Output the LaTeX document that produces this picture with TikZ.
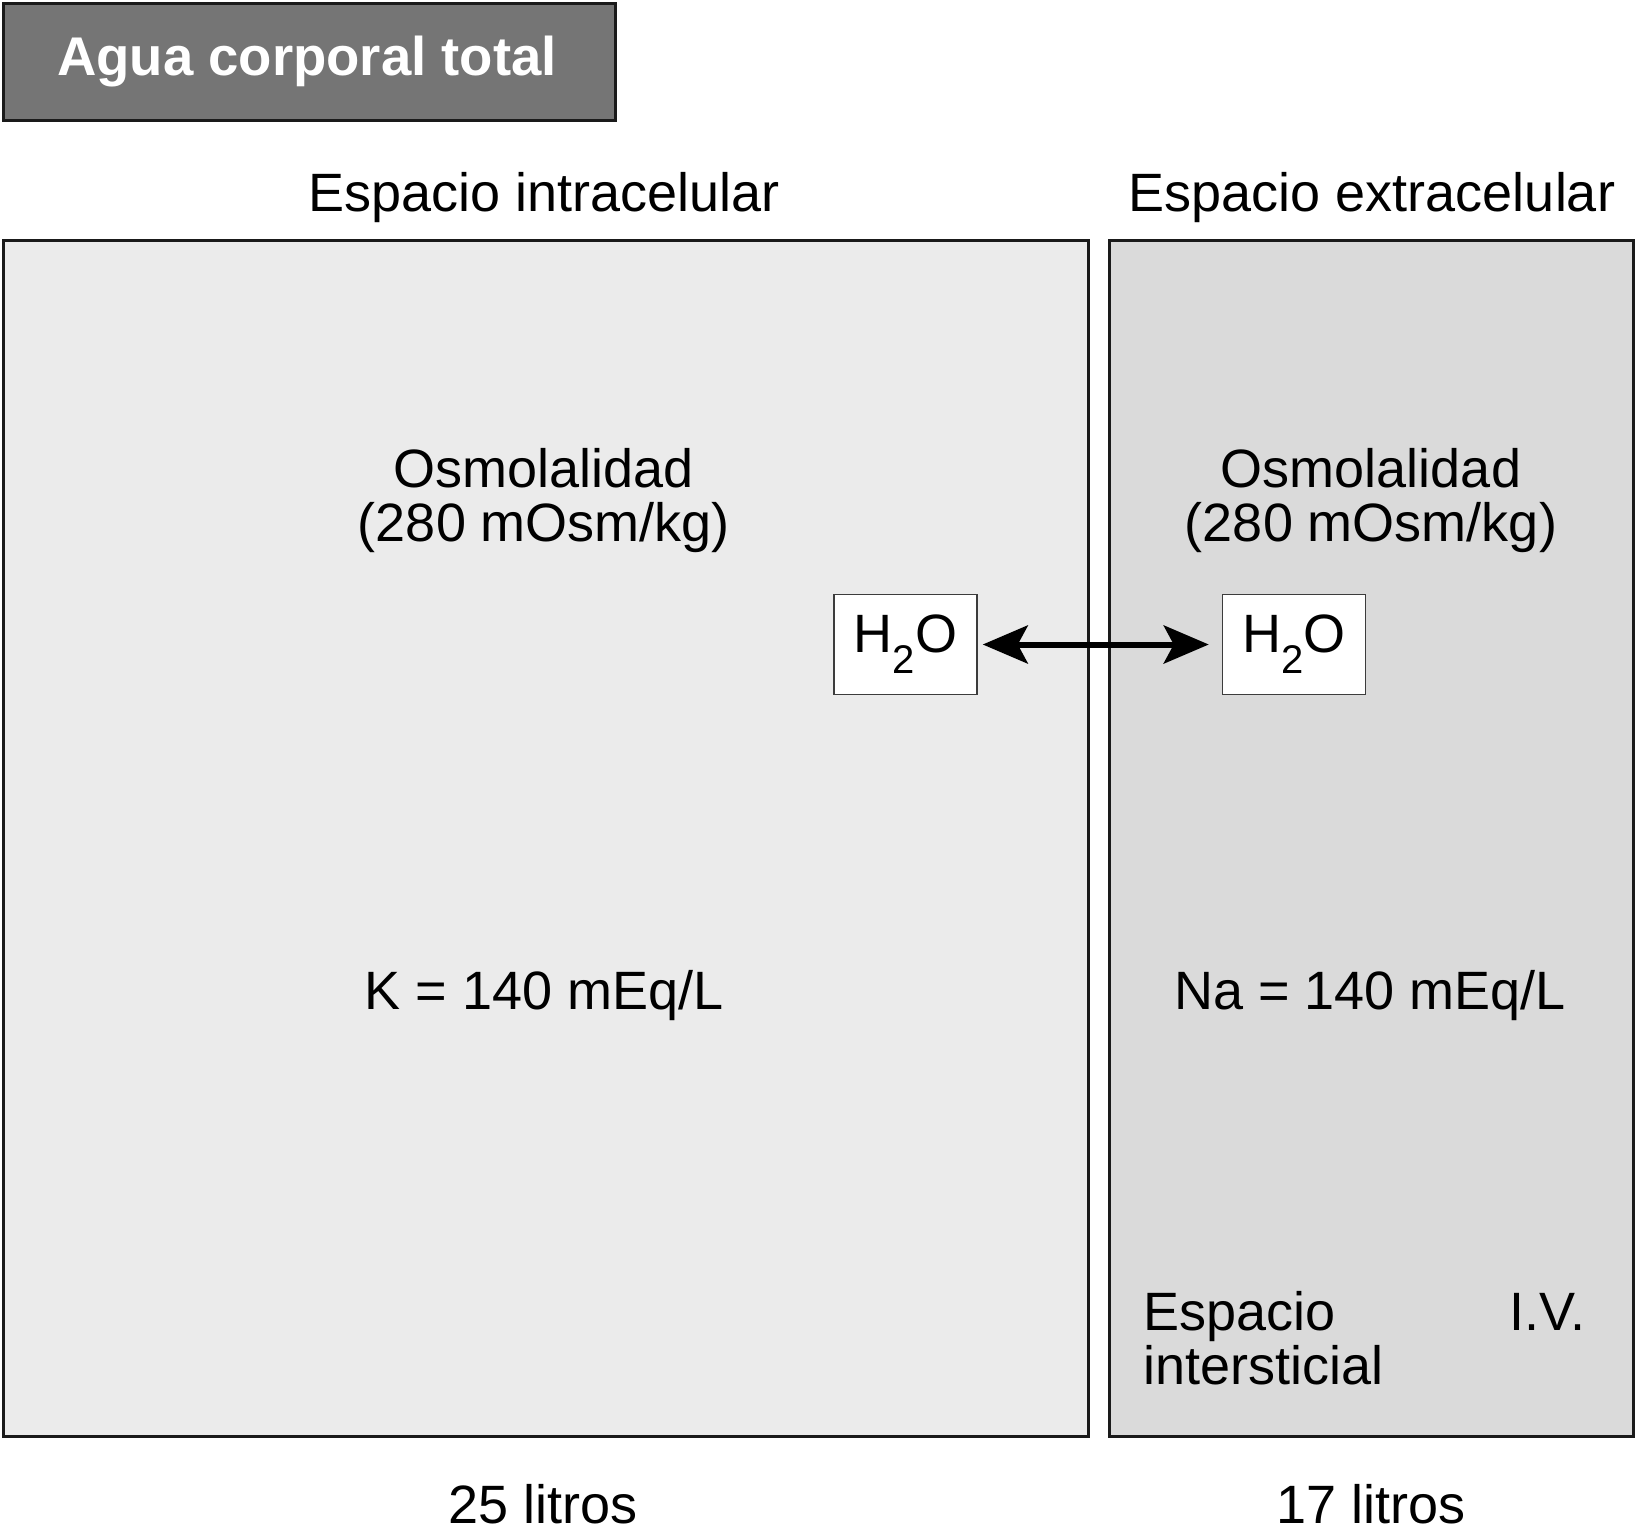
\documentclass[tikz,border=0pt]{standalone}
\usepackage{fontspec}
\setmainfont{Liberation Sans}
\usetikzlibrary{arrows.meta}
\definecolor{titlegray}{HTML}{757575}
\definecolor{icfgray}{HTML}{EBEBEB}
\definecolor{ecfgray}{HTML}{DADADA}
\definecolor{edge}{HTML}{1A1A1A}
\tikzset{
  txt/.style={font=\fontsize{54}{60}\selectfont, inner sep=0pt, anchor=base},
  space/.style={draw=edge, line width=3pt, inner sep=0pt, anchor=north west},
  waterbox/.style={draw=edge!85, line width=1.5pt, fill=white, inner sep=0pt,
    minimum width=143pt, minimum height=100pt,
    font=\fontsize{54}{60}\selectfont},
  exch/.style={line width=6pt, {Stealth[length=45pt,width=38pt,inset=10pt]}-{Stealth[length=45pt,width=38pt,inset=10pt]}}
}
\newcommand{\water}{H\raisebox{-21pt}{\fontsize{40}{40}\selectfont 2}O}
\begin{document}
\begin{tikzpicture}[x=1pt,y=-1pt]
\useasboundingbox (0,0) rectangle (1635,1539);
% title
\node[space, fill=titlegray, minimum width=612pt, minimum height=117pt] (title) at (1.5,1.5) {};
\node[txt, font=\fontsize{54.5}{60}\selectfont\bfseries, text=white] (titletext) at (307,75) {Agua corporal total};
% headers
\node[txt] (hicf) at (544,211) {Espacio intracelular};
\node[txt] (hecf) at (1372,211) {Espacio extracelular};
% compartments
\node[space, fill=icfgray, minimum width=1085pt, minimum height=1196pt] (icf) at (1.5,238.5) {};
\node[space, fill=ecfgray, minimum width=524pt, minimum height=1196pt] (ecf) at (1108,238.5) {};
% osmolality
\node[txt] (osm1) at (544,487) {Osmolalidad};
\node[txt] (osm1b) at (544,541) {(280 mOsm/kg)};
\node[txt] (osm2) at (1371,487) {Osmolalidad};
\node[txt] (osm2b) at (1371,541) {(280 mOsm/kg)};
% water
\node[waterbox] (w1) at (905.5,644.5) {\water};
\node[waterbox] (w2) at (1294,644.5) {\water};
\draw[exch, shorten <=5pt, shorten >=13pt] (w1.east) -- (w2.west);
% ions
\node[txt] (k) at (544,1009) {K = 140 mEq/L};
\node[txt] (na) at (1370,1009) {Na = 140 mEq/L};
% subcompartments
\node[txt, anchor=base west] (int1) at (1143,1330) {Espacio};
\node[txt, anchor=base west] (int2) at (1143,1384) {intersticial};
\node[txt, anchor=base east] (iv) at (1586,1330) {I.V.};
% volumes
\node[txt] (v1) at (543,1523) {25 litros};
\node[txt] (v2) at (1371,1523) {17 litros};
\end{tikzpicture}
\end{document}
